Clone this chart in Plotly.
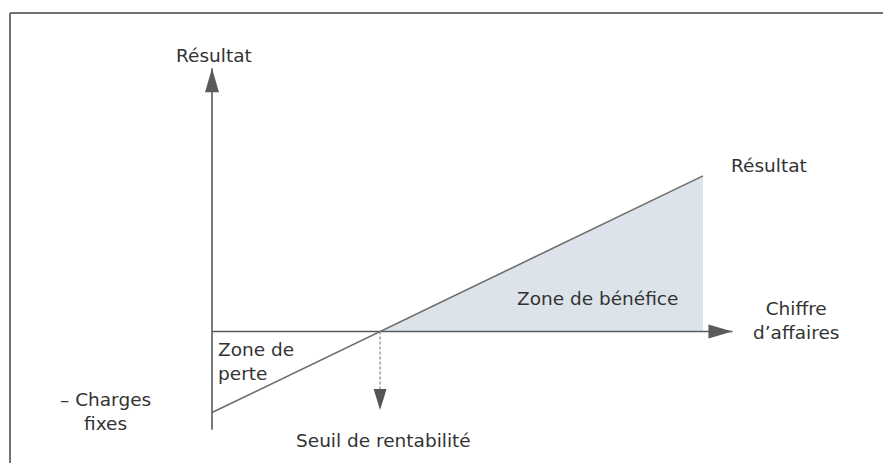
import plotly.graph_objects as go

# ---- data (conceptual units) ----
chiffre_affaires = [0, 100]          # revenue range shown
resultat = [-16.5, 31.7]             # result at CA=0 (-fixed charges) and at CA max
charges_fixes = 16.5

# break-even computed from data
slope = (resultat[1] - resultat[0]) / (chiffre_affaires[1] - chiffre_affaires[0])
seuil = -resultat[0] / slope

# layout constants
W, H = 883, 463
PX = 4.91                     # pixels per unit
ORIG_X, ORIG_Y = 212, 331.5   # pixel position of origin
x_axis_end = 106
y_axis_top = 53.6
y_axis_bottom = -20
seuil_arrow_end = -16

AXIS_COL = "#5a5a5a"
LINE_COL = "#6e6e6e"
TXT_COL = "#333333"
FONT = "DejaVu Sans"
FS = 18.5

fig = go.Figure()

# profit zone
fig.add_trace(go.Scatter(
    x=[seuil, chiffre_affaires[1], chiffre_affaires[1], seuil],
    y=[0, resultat[1], 0, 0],
    fill="toself", fillcolor="#dde3ea", line=dict(width=0),
    mode="lines", hoverinfo="skip", showlegend=False))

# axes
fig.add_trace(go.Scatter(x=[0, x_axis_end], y=[0, 0], mode="lines",
                         line=dict(color=AXIS_COL, width=1.6), showlegend=False))
fig.add_trace(go.Scatter(x=[0, 0], y=[y_axis_bottom, y_axis_top], mode="lines",
                         line=dict(color=AXIS_COL, width=1.6), showlegend=False))

# result line
fig.add_trace(go.Scatter(x=chiffre_affaires, y=resultat, mode="lines",
                         line=dict(color=LINE_COL, width=1.6), showlegend=False))

# break-even dashed line
fig.add_trace(go.Scatter(x=[seuil, seuil], y=[0, seuil_arrow_end + 2.5], mode="lines",
                         line=dict(color="#888888", width=1.2, dash="3px,2px"), showlegend=False))

# arrowheads (pixel-sized, anchored at tips)
def head(xa, ya, path, col=AXIS_COL):
    fig.add_shape(type="path", xref="x", yref="y", xsizemode="pixel", ysizemode="pixel",
                  xanchor=xa, yanchor=ya, path=path, fillcolor=col, line=dict(width=0))

head(0, y_axis_top, "M0,0 L-7,-24 L7,-24 Z")              # up
head(x_axis_end, 0, "M0,0 L-24,-7 L-24,7 Z")              # right
head(seuil, seuil_arrow_end, "M0,0 L-6.5,21 L6.5,21 Z", "#555555")  # down

# frame
fig.add_shape(type="line", xref="paper", yref="paper", x0=10/W, x1=10/W, y0=0, y1=1-13/H,
              line=dict(color="#707070", width=2))
fig.add_shape(type="line", xref="paper", yref="paper", x0=10/W, x1=1, y0=1-13/H, y1=1-13/H,
              line=dict(color="#707070", width=2))

def label(text, x, y, xanchor="center", yanchor="middle", align="center"):
    fig.add_annotation(text=text, x=x, y=y, xref="x", yref="y", showarrow=False,
                       xanchor=xanchor, yanchor=yanchor, align=align,
                       font=dict(family=FONT, size=FS, color=TXT_COL))

label("Résultat", 0.4, 56.3)
label("Résultat", 113.4, 33.9)
label("Zone de bénéfice", 78.6, 6.8)
label("Chiffre<br>d’affaires", 119.0, 2.2)
label("Zone de<br>perte", 0.9, -6.2, xanchor="left", align="left")
label("– Charges<br>fixes", -21.6, -16.2)
label("Seuil de rentabilité", seuil + 0.6, -22.2)

fig.update_layout(
    width=W, height=H, margin=dict(l=0, r=0, t=0, b=0),
    paper_bgcolor="white", plot_bgcolor="white",
    xaxis=dict(range=[-ORIG_X / PX, (W - ORIG_X) / PX], visible=False, fixedrange=True),
    yaxis=dict(range=[-(H - ORIG_Y) / PX, ORIG_Y / PX], visible=False, fixedrange=True),
)

fig.write_html("out.html", config={"displayModeBar": False},
               post_script="document.body.style.margin='0';")
